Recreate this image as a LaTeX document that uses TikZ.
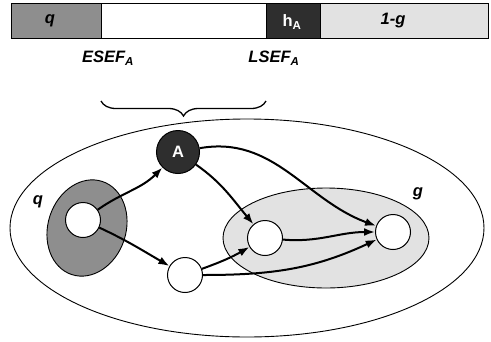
\documentclass[tikz,border=0pt]{standalone}
\usepackage{fontspec}
\setmainfont{Liberation Sans}
\usetikzlibrary{calc,shapes,arrows.meta,decorations.pathreplacing}
\definecolor{qgray}{HTML}{8E8E8E}
\definecolor{dgray}{HTML}{2E2E2E}
\definecolor{lgray}{HTML}{E2E2E2}
\tikzset{
  vtx/.style={circle,draw,line width=1pt,fill=white,minimum size=35pt,inner sep=0pt},
  arr/.style={-{Latex[length=11pt,width=8pt]},line width=2pt},
  lbl/.style={font=\fontsize{16.5}{18}\selectfont\bfseries\itshape}
}

\begin{document}
\begin{tikzpicture}[x=1pt,y=-1pt,line width=0.9pt]
    \useasboundingbox (0,0) rectangle (491,341);
    % bar
    \draw[fill=qgray] (11,3) rectangle (101,38);
    \draw[fill=white] (101,3) rectangle (266,38);
    \draw[fill=dgray] (266,3) rectangle (320,38);
    \draw[fill=lgray] (320,3) rectangle (488,38);
    \node[lbl] (Bq) at (50,21) {q};
    \node[font=\fontsize{16.5}{18}\selectfont\bfseries,text=white] (Bh) at (292,22) {h\textsubscript{A}};
    \node[lbl] (Bg) at (393,21) {1-g};
    \node[lbl] (E) at (108,58) {ESEF\textsubscript{A}};
    \node[lbl] (L) at (274,58) {LSEF\textsubscript{A}};
    \draw[line width=1.3pt,decorate,decoration={brace,amplitude=15pt,mirror}]
        (101,101) -- (266,101);
    % sets
    \draw[fill=white] (247,228) ellipse [x radius=237, y radius=109];
    \draw[fill=qgray] (87,228) ellipse [x radius=39, y radius=49, rotate=-18];
    \draw[fill=lgray] (326,238) ellipse [x radius=103, y radius=50];
    \node[lbl] (Lq) at (38,202) {q};
    \node[lbl] (Lg) at (418,194) {g};
    % vertices
    \node[vtx] (N0) at (83,220) {};
    \node[vtx,fill=dgray,minimum size=43pt,text=white,
          font=\fontsize{16.5}{18}\selectfont\bfseries] (N1) at (178,152) {A};
    \node[vtx] (N2) at (185,275) {};
    \node[vtx] (N3) at (265,238) {};
    \node[vtx] (N4) at (393,232) {};
    % arcs
    \path[arr] (N0) edge[out=35,in=225] (N1) (N0) edge[out=-25,in=150] (N2);
    \path[arr] (N1) edge[out=-35,in=130] (N3) (N1) edge[out=10,in=160] (N4);
    \path[arr] (N2) edge[out=20,in=210] (N3) (N2) edge[out=0,in=205] (N4);
    \path[arr] (N3) edge[out=-5,in=180] (N4);
\end{tikzpicture}
\end{document}
